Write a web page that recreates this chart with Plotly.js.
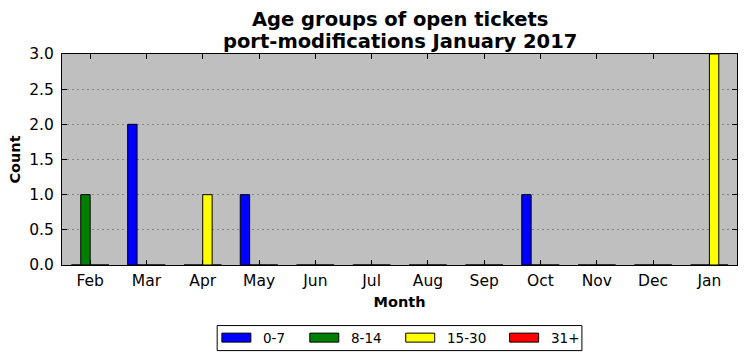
<!DOCTYPE html>
<html>
<head>
<meta charset="utf-8">
<script src="https://cdn.plot.ly/plotly-3.0.1.min.js"></script>
<style>
html,body{margin:0;padding:0;background:#fff;}
#chart{width:746px;height:361px;}
</style>
</head>
<body>
<div id="chart"></div>
<script>
const months = ["Feb","Mar","Apr","May","Jun","Jul","Aug","Sep","Oct","Nov","Dec","Jan"];
const seriesNames = ["0-7","8-14","15-30","31+"];
const seriesColors = ["#0000ff","#008000","#ffff00","#ff0000"];
const age0to7   = [0,2,0,1,0,0,0,0,1,0,0,0];
const age8to14  = [1,0,0,0,0,0,0,0,0,0,0,0];
const age15to30 = [0,0,1,0,0,0,0,0,0,0,0,3];
const age31plus = [0,0,0,0,0,0,0,0,0,0,0,0];
const yTicks = [0,0.5,1,1.5,2,2.5,3];
const titleLines = ["Age groups of open tickets","port-modifications January 2017"];

const values = [age0to7, age8to14, age15to30, age31plus];
const font = "DejaVu Sans, sans-serif";

// plot area geometry (pixels)
const W = 746, H = 361;
const M = {l:62, r:8.5, t:53.5, b:96};
const plotW = W - M.l - M.r, plotH = H - M.t - M.b;
const px2x = p => (p - M.l) / plotW;
const py2y = p => (H - M.b - p) / plotH;

const traces = values.map((v,i)=>({
  type:"bar",
  name: seriesNames[i],
  x: months,
  y: v,
  marker:{color: seriesColors[i], line:{color:"#000", width:1}},
  hoverinfo:"skip",
  showlegend:false
}));

// custom legend (matplotlib style: wide rectangular swatches)
const legendSwatchX = [222, 310, 406, 510];
const swW = 29, swTop = 333.3, swBot = 342.3, textGap = 10;
const shapes = [{
  type:"rect", xref:"paper", yref:"paper",
  x0:px2x(217.3), x1:px2x(582.3), y0:py2y(325.7), y1:py2y(350.8),
  line:{color:"#000", width:1}, fillcolor:"#fff", layer:"above"
}];
const annotations = [];
seriesNames.forEach((n,i)=>{
  const x0 = legendSwatchX[i];
  shapes.push({
    type:"rect", xref:"paper", yref:"paper",
    x0:px2x(x0), x1:px2x(x0+swW), y0:py2y(swBot), y1:py2y(swTop),
    line:{color:"#000", width:1}, fillcolor:seriesColors[i], layer:"above"
  });
  annotations.push({
    xref:"paper", yref:"paper", x:px2x(x0+swW+textGap), y:py2y((swTop+swBot)/2),
    xanchor:"left", yanchor:"middle", showarrow:false,
    text:n, font:{family:font, size:13.5, color:"#000"}
  });
});
// two-line bold title
const titleCenters = [18.5, 40.5];
titleLines.forEach((t,i)=>{
  annotations.push({
    xref:"paper", yref:"paper", x:0.5, y:py2y(titleCenters[i]),
    xanchor:"center", yanchor:"middle", showarrow:false,
    text:"<b>"+t+"</b>", font:{family:font, size:19.5, color:"#000"}
  });
});

const layout = {
  width:W, height:H,
  margin:M,
  paper_bgcolor:"#ffffff",
  plot_bgcolor:"#bfbfbf",
  barmode:"group",
  bargap:0.333,
  bargroupgap:0,
  font:{family:font, color:"#000", size:15.5},
  xaxis:{
    type:"category",
    range:[-0.5, 11.49],
    showline:true, linecolor:"#000", linewidth:1,
    mirror:"ticks",
    ticks:"inside", ticklen:5, tickcolor:"#000", tickwidth:1,
    showgrid:false, zeroline:false,
    tickfont:{family:font, size:15.5},
    ticklabelstandoff:1,
    title:{text:"<b>Month</b>", font:{family:font, size:14.5}, standoff:8}
  },
  yaxis:{
    range:[0,3],
    tickvals:yTicks,
    ticktext:yTicks.map(t=>t.toFixed(1)),
    showline:true, linecolor:"#000", linewidth:1,
    mirror:"ticks",
    ticks:"inside", ticklen:5, tickcolor:"#000", tickwidth:1,
    showgrid:true, gridcolor:"#858585", griddash:"2px,3px", gridwidth:1,
    zeroline:false,
    tickfont:{family:font, size:15.5},
    ticklabelstandoff:4,
    title:{text:"<b>Count</b>", font:{family:font, size:14.5}, standoff:5}
  },
  showlegend:false,
  shapes:shapes,
  annotations:annotations
};

Plotly.newPlot("chart", traces, layout, {displayModeBar:false, staticPlot:true});
</script>
</body>
</html>
